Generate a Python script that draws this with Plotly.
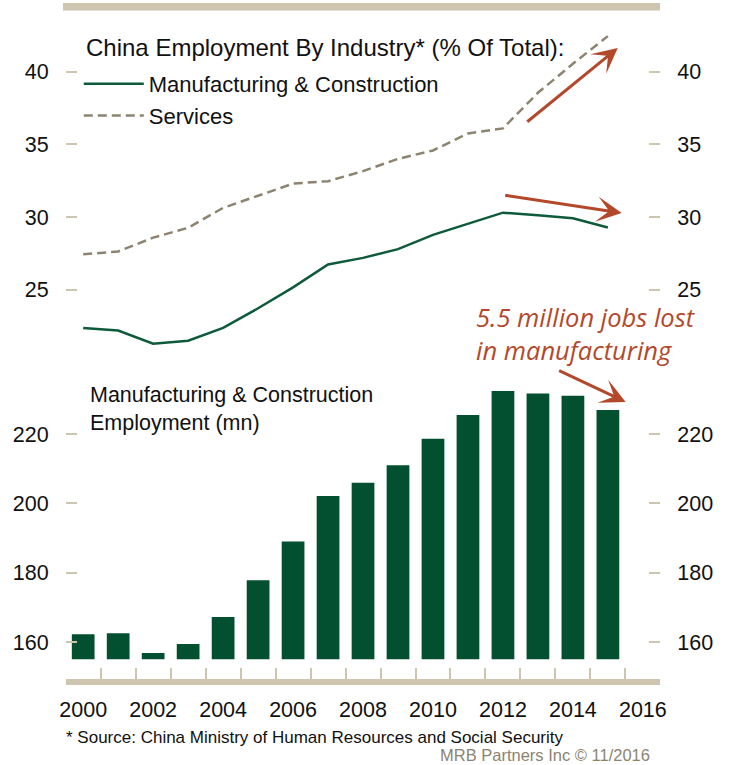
import plotly.graph_objects as go

# ---------------- data ----------------
years = list(range(2000, 2016))
manuf_share = [22.37, 22.19, 21.28, 21.49, 22.37, 23.72, 25.16, 26.74, 27.19, 27.79,
               28.77, 29.53, 30.30, 30.12, 29.91, 29.28]
services_share = [27.44, 27.63, 28.58, 29.26, 30.63, 31.49, 32.30, 32.47, 33.16, 34.00,
                  34.58, 35.75, 36.10, 38.55, 40.55, 42.45]
manuf_emp = [162.2, 162.5, 156.8, 159.4, 167.2, 177.8, 189.0, 202.1, 205.9, 211.0,
             218.6, 225.5, 232.4, 231.7, 231.0, 226.9]

x_label_years = list(range(2000, 2017, 2))
year_bounds = [y - 0.5 for y in range(2000, 2018)]
top_ticks = [25, 30, 35, 40]
bottom_ticks = [160, 180, 200, 220]

# ---------------- style ----------------
W, H = 730, 765
BEIGE = "#cdc5b0"
GREEN_BAR = "#02502f"
GREEN_LINE = "#0e5b3b"
TAUPE = "#8c8470"
RUST = "#b4482a"
FONT = "Liberation Sans, Arial, sans-serif"

def px_x(p):
    return p / W

def px_y(p):
    return 1 - p / H

fig = go.Figure()

fig.add_trace(go.Scatter(
    x=years, y=manuf_share, name="Manufacturing & Construction",
    mode="lines", line=dict(color=GREEN_LINE, width=2.5),
    xaxis="x", yaxis="y", legendgroup="a"))
fig.add_trace(go.Scatter(
    x=years, y=services_share, name="Services",
    mode="lines", line=dict(color=TAUPE, width=2.5, dash="9px,5px"),
    xaxis="x", yaxis="y", legendgroup="b"))
fig.add_trace(go.Bar(
    x=years, y=manuf_emp, width=0.65, marker=dict(color=GREEN_BAR, line=dict(width=0)),
    xaxis="x", yaxis="y2", showlegend=False))
# invisible companions so the mirrored axes / boundary ticks are drawn
fig.add_trace(go.Scatter(x=years, y=manuf_share, xaxis="x", yaxis="y3", mode="lines",
                         opacity=0, showlegend=False, hoverinfo="skip"))
fig.add_trace(go.Scatter(x=years, y=manuf_emp, xaxis="x", yaxis="y4", mode="lines",
                         opacity=0, showlegend=False, hoverinfo="skip"))
fig.add_trace(go.Scatter(x=years, y=manuf_share, xaxis="x2", yaxis="y", mode="lines",
                         opacity=0, showlegend=False, hoverinfo="skip"))

top_range = [20.85, 44.11]
bot_range = [155.0, 238.46]
x_dom = [px_x(60.7), px_x(665.3)]
x_range = [1999.5, 2016.5]
x_pos = px_y(682)

yax_common = dict(showgrid=False, zeroline=False, showline=False, ticks="inside",
                  ticklen=11, tickwidth=2, tickcolor=BEIGE,
                  tickfont=dict(size=21.5, color="#111"), ticklabelstandoff=16)

fig.update_layout(
    width=W, height=H, margin=dict(l=0, r=0, t=0, b=0),
    plot_bgcolor="white", paper_bgcolor="white",
    font=dict(family=FONT, size=21, color="#111"),
    xaxis=dict(domain=x_dom, range=x_range, anchor="free", position=x_pos,
               showline=True, linecolor=BEIGE, linewidth=6, showgrid=False, zeroline=False,
               tickvals=x_label_years, ticktext=[str(v) for v in x_label_years],
               ticks="", ticklabelstandoff=6,
               tickfont=dict(size=21.5, color="#111")),
    xaxis2=dict(overlaying="x", range=x_range, anchor="free", position=x_pos,
                showline=False, showgrid=False, zeroline=False,
                tickvals=year_bounds, ticks="inside", ticklen=14, tickwidth=2,
                tickcolor=BEIGE, showticklabels=False),
    yaxis=dict(domain=[px_y(350), px_y(12)], range=top_range, tickvals=top_ticks,
               anchor="x", side="left", **yax_common),
    yaxis3=dict(overlaying="y", range=top_range, tickvals=top_ticks,
                anchor="x", side="right", **yax_common),
    yaxis2=dict(domain=[px_y(659.3), px_y(370)], range=bot_range, tickvals=bottom_ticks,
                anchor="x", side="left", **yax_common),
    yaxis4=dict(overlaying="y2", range=bot_range, tickvals=bottom_ticks,
                anchor="x", side="right", **yax_common),
    legend=dict(x=px_x(74), y=px_y(63), xanchor="left", yanchor="top",
                bgcolor="rgba(0,0,0,0)", font=dict(size=22, color="#111"),
                itemwidth=60, tracegroupgap=12, traceorder="normal"),
)

# legend heading
fig.add_annotation(x=px_x(79), y=px_y(47), xref="paper", yref="paper",
                   xanchor="left", yanchor="middle", showarrow=False,
                   text="China Employment By Industry* (% Of Total):",
                   font=dict(size=24, color="#111"))

# top decorative band
fig.add_shape(type="rect", xref="paper", yref="paper",
              x0=px_x(58), x1=px_x(665), y0=px_y(10.5), y1=px_y(3),
              fillcolor=BEIGE, line=dict(width=0))

# arrows
arrows = [((622, 48), (-92, 75)), ((626, 213), (-118, -18)), ((630, 402), (-68, -32))]
for (hx, hy), (ax, ay) in arrows:
    fig.add_annotation(x=px_x(hx), y=px_y(hy), xref="paper", yref="paper",
                       ax=ax, ay=ay, text="", showarrow=True, arrowhead=3,
                       arrowsize=1.4, arrowwidth=3, arrowcolor=RUST, standoff=0)

fig.add_annotation(x=px_x(476), y=px_y(298), xref="paper", yref="paper",
                   xanchor="left", yanchor="top", align="left", showarrow=False,
                   text="<i>5.5 million jobs lost<br>in manufacturing</i>",
                   font=dict(family="Open Sans, Lato, sans-serif", size=25.5, color=RUST))

fig.add_annotation(x=px_x(83), y=px_y(381), xref="paper", yref="paper",
                   xanchor="left", yanchor="top", align="left", showarrow=False,
                   text="Manufacturing & Construction<br>Employment (mn)",
                   font=dict(size=21.5, color="#111"))

fig.add_annotation(x=px_x(59), y=px_y(737), xref="paper", yref="paper",
                   xanchor="left", yanchor="middle", showarrow=False,
                   text="* Source: China Ministry of Human Resources and Social Security",
                   font=dict(size=17, color="#111"))
fig.add_annotation(x=px_x(657), y=px_y(755), xref="paper", yref="paper",
                   xanchor="right", yanchor="middle", showarrow=False,
                   text="MRB Partners Inc © 11/2016",
                   font=dict(size=16.5, color=TAUPE))

fig.write_html("out.html")
